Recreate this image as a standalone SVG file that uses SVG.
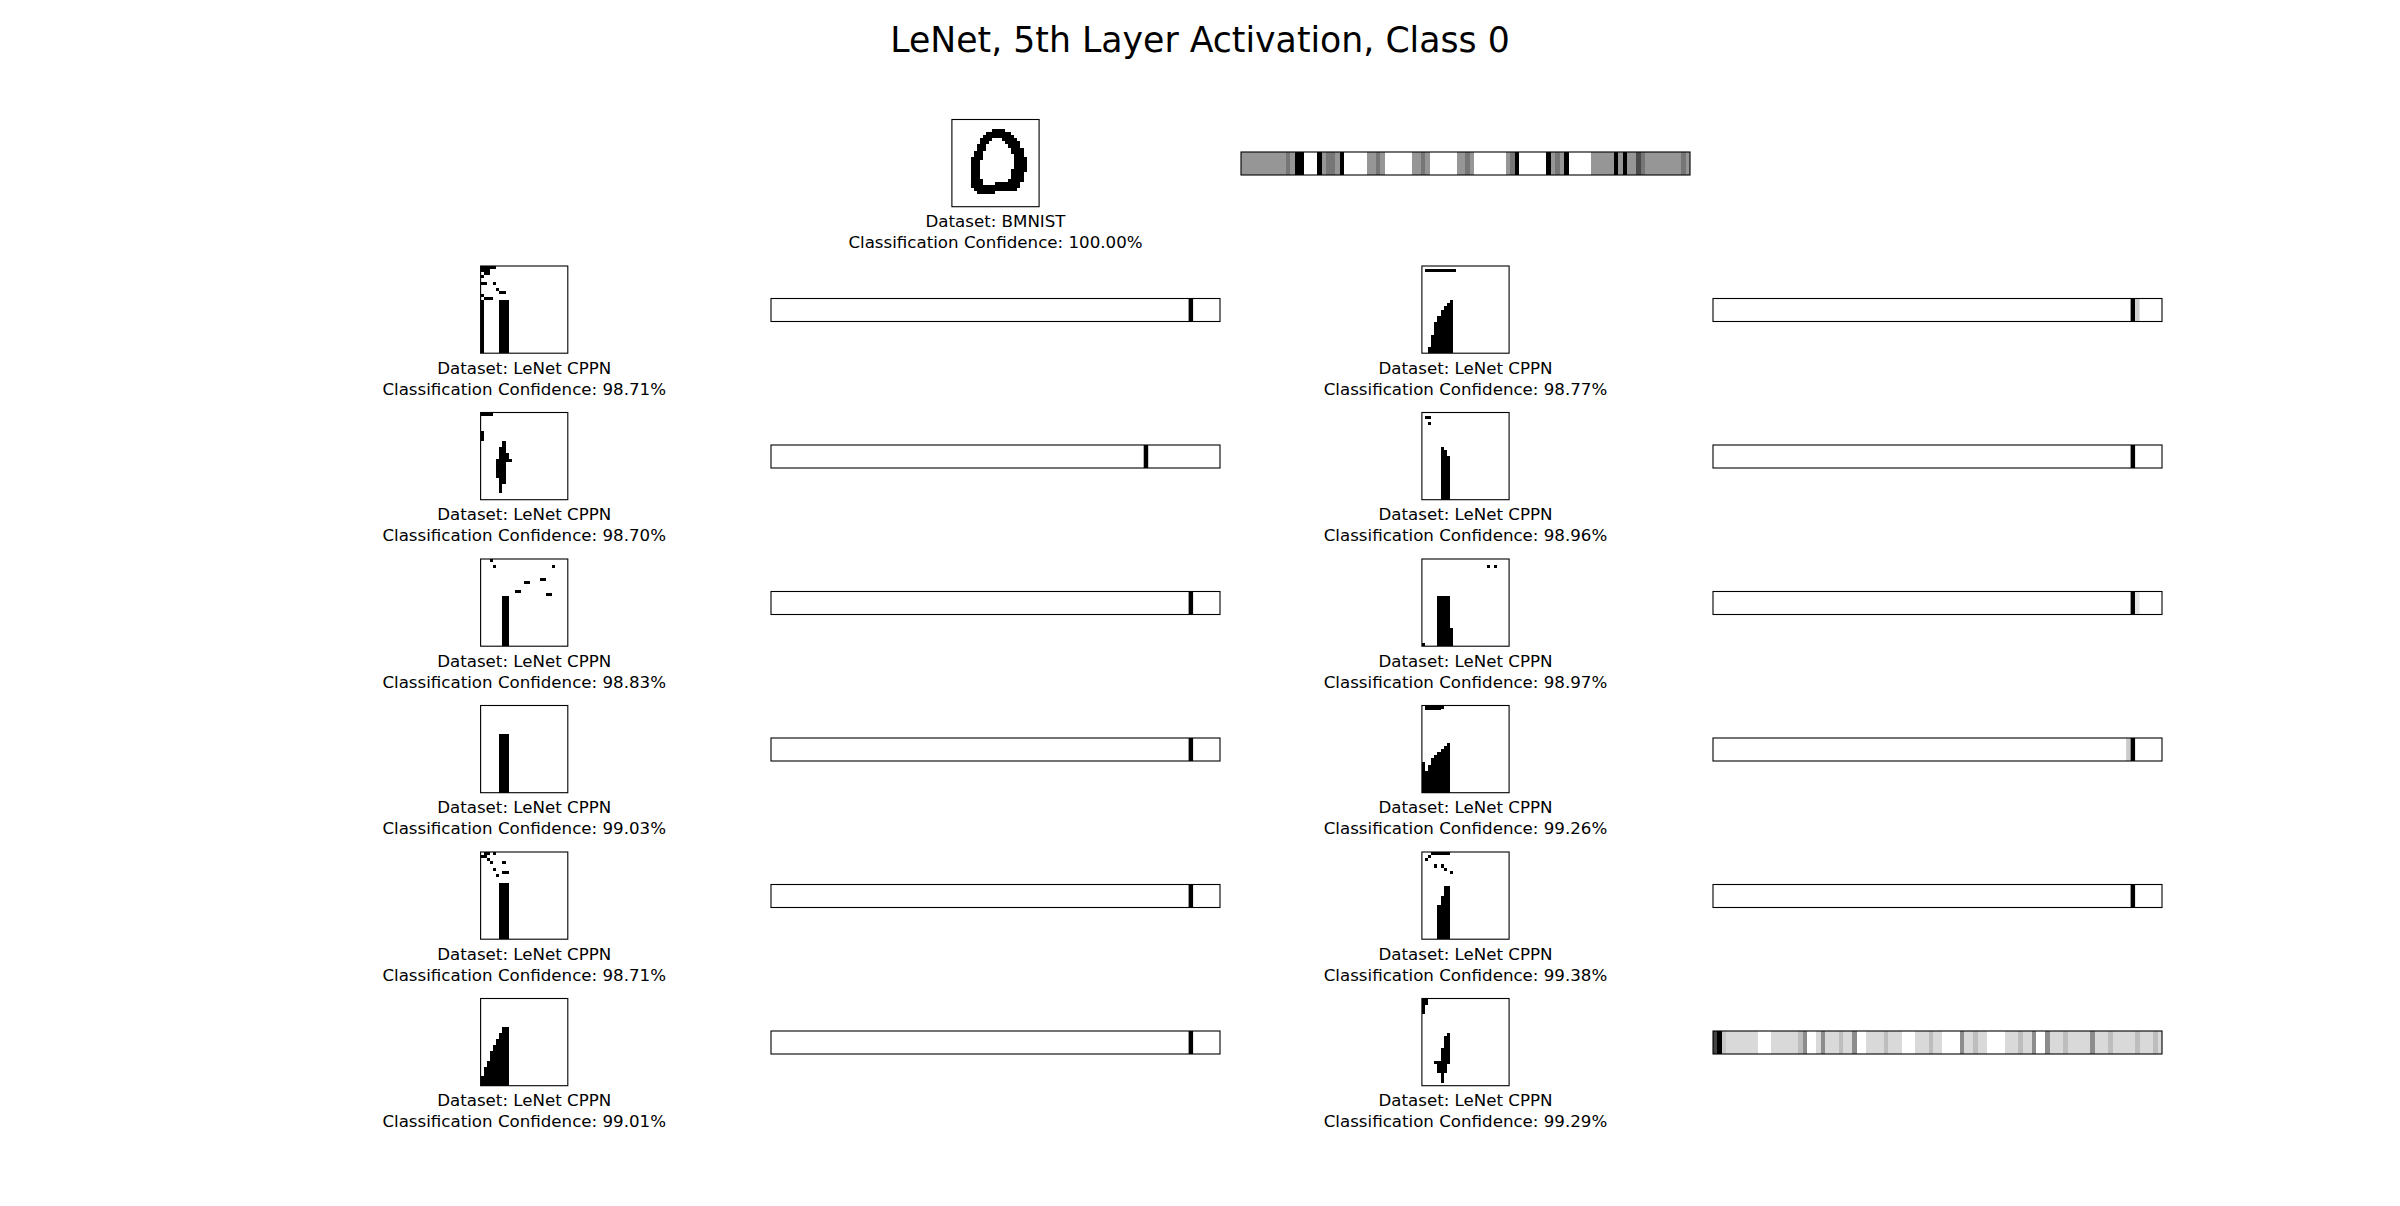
<svg xmlns="http://www.w3.org/2000/svg" width="2400" height="1206" viewBox="0 0 2400 1206">
<style>
text{font-family:"DejaVu Sans","Liberation Sans",sans-serif;fill:#000;text-anchor:middle}
.title{font-size:34.7px}
.lbl{font-size:16.67px}
.frame{fill:none;stroke:#000;stroke-width:1.1}
.px rect{fill:#000}
.G{fill:#969696}.D{fill:#767676}.B{fill:#000}.VD{fill:#4a4a4a}
.L{fill:#d9d9d9}.M{fill:#bdbdbd}.Gr{fill:#8c8c8c}
</style>
<rect width="2400" height="1206" fill="#fff"/>
<text class="title" x="1200" y="52">LeNet, 5th Layer Activation, Class 0</text>

<!-- Top row -->
<g id="bmnist">
<g class="px" transform="translate(951.9,119.5) scale(3.114)" shape-rendering="crispEdges">
<rect x="13" y="3" width="4" height="1"/>
<rect x="11" y="4" width="8" height="1"/>
<rect x="10" y="5" width="10" height="1"/>
<rect x="9" y="6" width="4" height="1"/><rect x="16" y="6" width="5" height="1"/>
<rect x="9" y="7" width="3" height="1"/><rect x="17" y="7" width="5" height="1"/>
<rect x="8" y="8" width="3" height="1"/><rect x="18" y="8" width="4" height="1"/>
<rect x="8" y="9" width="3" height="1"/><rect x="19" y="9" width="4" height="1"/>
<rect x="7" y="10" width="3" height="1"/><rect x="19" y="10" width="4" height="1"/>
<rect x="7" y="11" width="3" height="1"/><rect x="20" y="11" width="3" height="1"/>
<rect x="6" y="12" width="4" height="1"/><rect x="20" y="12" width="4" height="1"/>
<rect x="6" y="13" width="3" height="3"/><rect x="20" y="13" width="4" height="3"/>
<rect x="6" y="16" width="3" height="3"/><rect x="19" y="16" width="5" height="1"/>
<rect x="19" y="17" width="4" height="2"/>
<rect x="6" y="19" width="4" height="1"/><rect x="18" y="19" width="5" height="1"/>
<rect x="6" y="20" width="4" height="1"/><rect x="14" y="20" width="8" height="1"/>
<rect x="6" y="21" width="16" height="1"/>
<rect x="7" y="22" width="14" height="1"/>
<rect x="8" y="23" width="6" height="1"/>
</g>
<rect class="frame" x="951.9" y="119.5" width="87.2" height="87.2"/>
<text class="lbl" x="995.5" y="227.2">Dataset: BMNIST</text>
<text class="lbl" x="995.5" y="248.2">Classification Confidence: 100.00%</text>
</g>
<g id="bar-bmnist">
<g transform="translate(1241,152) scale(4.49,23)" shape-rendering="crispEdges">
<rect class="G" x="0" y="0" width="10" height="1"/><rect class="D" x="10" y="0" width="1" height="1"/><rect class="G" x="11" y="0" width="1" height="1"/>
<rect class="B" x="12" y="0" width="2" height="1"/>
<rect class="B" x="17" y="0" width="1" height="1"/><rect class="G" x="18" y="0" width="1" height="1"/><rect class="D" x="19" y="0" width="2" height="1"/><rect class="G" x="21" y="0" width="1" height="1"/><rect class="B" x="22" y="0" width="1" height="1"/>
<rect class="G" x="28" y="0" width="2" height="1"/><rect class="D" x="30" y="0" width="1" height="1"/><rect class="G" x="31" y="0" width="1" height="1"/>
<rect class="G" x="38" y="0" width="2" height="1"/><rect class="D" x="40" y="0" width="1" height="1"/><rect class="G" x="41" y="0" width="1" height="1"/>
<rect class="G" x="48" y="0" width="2" height="1"/><rect class="D" x="50" y="0" width="1" height="1"/><rect class="G" x="51" y="0" width="1" height="1"/>
<rect class="G" x="59" y="0" width="1" height="1"/><rect class="D" x="60" y="0" width="1" height="1"/><rect class="B" x="61" y="0" width="1" height="1"/>
<rect class="B" x="68" y="0" width="1" height="1"/><rect class="G" x="69" y="0" width="1" height="1"/><rect class="D" x="70" y="0" width="1" height="1"/><rect class="G" x="71" y="0" width="1" height="1"/><rect class="B" x="72" y="0" width="1" height="1"/>
<rect class="G" x="78" y="0" width="5" height="1"/><rect class="B" x="83" y="0" width="1" height="1"/><rect class="G" x="84" y="0" width="1" height="1"/><rect class="B" x="85" y="0" width="1" height="1"/><rect class="G" x="86" y="0" width="2" height="1"/><rect class="VD" x="88" y="0" width="1" height="1"/><rect class="D" x="89" y="0" width="1" height="1"/><rect class="G" x="90" y="0" width="8" height="1"/><rect class="D" x="98" y="0" width="1" height="1"/><rect class="G" x="99" y="0" width="1" height="1"/>
</g>
<rect class="frame" x="1241" y="152" width="449" height="23"/>
</g>

<!-- Left column -->
<g id="left-1">
<g class="px" transform="translate(480.6,266) scale(3.114)" shape-rendering="crispEdges">
<rect x="0" y="0" width="5" height="1"/><rect x="0" y="1" width="3" height="1"/><rect x="1" y="2" width="2" height="1"/><rect x="0" y="3" width="1" height="1"/>
<rect x="0" y="5" width="2" height="1"/><rect x="4" y="5" width="1" height="1"/><rect x="5" y="7" width="1" height="1"/><rect x="6" y="8" width="2" height="1"/>
<rect x="0" y="9" width="1" height="1"/><rect x="1" y="10" width="3" height="1"/>
<rect x="0" y="11" width="1" height="17"/><rect x="6" y="11" width="3" height="17"/>
</g>
<rect class="frame" x="480.6" y="266" width="87.2" height="87.2"/>
<text class="lbl" x="524.2" y="373.7">Dataset: LeNet CPPN</text>
<text class="lbl" x="524.2" y="394.7">Classification Confidence: 98.71%</text>
</g>
<g id="left-2">
<g class="px" transform="translate(480.6,412.5) scale(3.114)" shape-rendering="crispEdges">
<rect x="0" y="0" width="4" height="1"/><rect x="0" y="6" width="1" height="3"/>
<rect x="7" y="9" width="1" height="2"/><rect x="6" y="11" width="2" height="2"/><rect x="6" y="13" width="3" height="2"/><rect x="5" y="15" width="5" height="1"/><rect x="5" y="16" width="3" height="5"/><rect x="6" y="21" width="2" height="2"/><rect x="6" y="23" width="1" height="3"/>
</g>
<rect class="frame" x="480.6" y="412.5" width="87.2" height="87.2"/>
<text class="lbl" x="524.2" y="520.2">Dataset: LeNet CPPN</text>
<text class="lbl" x="524.2" y="541.2">Classification Confidence: 98.70%</text>
</g>
<g id="left-3">
<g class="px" transform="translate(480.6,559) scale(3.114)" shape-rendering="crispEdges">
<rect x="3" y="0" width="1" height="1"/><rect x="4" y="2" width="1" height="1"/><rect x="23" y="2" width="1" height="1"/>
<rect x="19" y="6" width="2" height="1"/><rect x="14" y="7" width="2" height="1"/><rect x="11" y="10" width="2" height="1"/><rect x="21" y="11" width="2" height="1"/>
<rect x="7" y="12" width="2" height="16"/>
</g>
<rect class="frame" x="480.6" y="559" width="87.2" height="87.2"/>
<text class="lbl" x="524.2" y="666.7">Dataset: LeNet CPPN</text>
<text class="lbl" x="524.2" y="687.7">Classification Confidence: 98.83%</text>
</g>
<g id="left-4">
<g class="px" transform="translate(480.6,705.5) scale(3.114)" shape-rendering="crispEdges">
<rect x="6" y="9" width="3" height="19"/>
</g>
<rect class="frame" x="480.6" y="705.5" width="87.2" height="87.2"/>
<text class="lbl" x="524.2" y="813.2">Dataset: LeNet CPPN</text>
<text class="lbl" x="524.2" y="834.2">Classification Confidence: 99.03%</text>
</g>
<g id="left-5">
<g class="px" transform="translate(480.6,852) scale(3.114)" shape-rendering="crispEdges">
<rect x="1" y="0" width="2" height="1"/><rect x="0" y="1" width="2" height="1"/><rect x="2" y="2" width="1" height="1"/><rect x="4" y="0" width="1" height="1"/>
<rect x="7" y="3" width="1" height="1"/><rect x="3" y="3" width="1" height="1"/><rect x="4" y="5" width="1" height="1"/><rect x="7" y="6" width="2" height="1"/><rect x="5" y="7" width="1" height="1"/>
<rect x="6" y="10" width="3" height="18"/>
</g>
<rect class="frame" x="480.6" y="852" width="87.2" height="87.2"/>
<text class="lbl" x="524.2" y="959.7">Dataset: LeNet CPPN</text>
<text class="lbl" x="524.2" y="980.7">Classification Confidence: 98.71%</text>
</g>
<g id="left-6">
<g class="px" transform="translate(480.6,998.5) scale(3.114)" shape-rendering="crispEdges">
<rect x="7" y="9" width="2" height="2"/><rect x="6" y="11" width="3" height="2"/><rect x="5" y="13" width="4" height="2"/><rect x="4" y="15" width="5" height="2"/><rect x="3" y="17" width="6" height="3"/><rect x="2" y="20" width="7" height="2"/><rect x="1" y="22" width="8" height="3"/><rect x="0" y="25" width="9" height="3"/>
</g>
<rect class="frame" x="480.6" y="998.5" width="87.2" height="87.2"/>
<text class="lbl" x="524.2" y="1106.2">Dataset: LeNet CPPN</text>
<text class="lbl" x="524.2" y="1127.2">Classification Confidence: 99.01%</text>
</g>

<!-- Right column -->
<g id="right-1">
<g class="px" transform="translate(1421.9,266) scale(3.114)" shape-rendering="crispEdges">
<rect x="1" y="1" width="10" height="1"/>
<rect x="9" y="11" width="1" height="1"/><rect x="8" y="12" width="2" height="1"/><rect x="7" y="13" width="3" height="1"/><rect x="6" y="14" width="4" height="2"/><rect x="5" y="16" width="5" height="2"/><rect x="4" y="18" width="6" height="4"/><rect x="3" y="22" width="7" height="4"/><rect x="2" y="26" width="8" height="2"/>
</g>
<rect class="frame" x="1421.9" y="266" width="87.2" height="87.2"/>
<text class="lbl" x="1465.5" y="373.7">Dataset: LeNet CPPN</text>
<text class="lbl" x="1465.5" y="394.7">Classification Confidence: 98.77%</text>
</g>
<g id="right-2">
<g class="px" transform="translate(1421.9,412.5) scale(3.114)" shape-rendering="crispEdges">
<rect x="1" y="1" width="2" height="1"/><rect x="2" y="3" width="1" height="1"/>
<rect x="6" y="11" width="1" height="17"/><rect x="7" y="12" width="1" height="16"/><rect x="8" y="14" width="1" height="14"/>
</g>
<rect class="frame" x="1421.9" y="412.5" width="87.2" height="87.2"/>
<text class="lbl" x="1465.5" y="520.2">Dataset: LeNet CPPN</text>
<text class="lbl" x="1465.5" y="541.2">Classification Confidence: 98.96%</text>
</g>
<g id="right-3">
<g class="px" transform="translate(1421.9,559) scale(3.114)" shape-rendering="crispEdges">
<rect x="21" y="2" width="1" height="1"/><rect x="23" y="2" width="1" height="1"/>
<rect x="5" y="12" width="4" height="16"/><rect x="9" y="22" width="1" height="6"/><rect x="0" y="27" width="1" height="1"/>
</g>
<rect class="frame" x="1421.9" y="559" width="87.2" height="87.2"/>
<text class="lbl" x="1465.5" y="666.7">Dataset: LeNet CPPN</text>
<text class="lbl" x="1465.5" y="687.7">Classification Confidence: 98.97%</text>
</g>
<g id="right-4">
<g class="px" transform="translate(1421.9,705.5) scale(3.114)" shape-rendering="crispEdges">
<rect x="1" y="0" width="6" height="1"/><rect x="1" y="1" width="5" height="0.6"/>
<rect x="0" y="18" width="1" height="10"/><rect x="1" y="21" width="1" height="7"/><rect x="2" y="19" width="1" height="9"/><rect x="3" y="17" width="1" height="11"/><rect x="4" y="16" width="1" height="12"/><rect x="5" y="15" width="1" height="13"/><rect x="6" y="14" width="1" height="14"/><rect x="7" y="13" width="1" height="15"/><rect x="8" y="12" width="1" height="16"/>
</g>
<rect class="frame" x="1421.9" y="705.5" width="87.2" height="87.2"/>
<text class="lbl" x="1465.5" y="813.2">Dataset: LeNet CPPN</text>
<text class="lbl" x="1465.5" y="834.2">Classification Confidence: 99.26%</text>
</g>
<g id="right-5">
<g class="px" transform="translate(1421.9,852) scale(3.114)" shape-rendering="crispEdges">
<rect x="5" y="0" width="4" height="1"/><rect x="3" y="0" width="2" height="1"/><rect x="2" y="1" width="1" height="1"/><rect x="1" y="2" width="1" height="1"/>
<rect x="4" y="4" width="1" height="1"/><rect x="6" y="4" width="1" height="1"/><rect x="7" y="5" width="1" height="1"/><rect x="9" y="6" width="1" height="1"/>
<rect x="7" y="11" width="2" height="17"/><rect x="6" y="14" width="1" height="14"/><rect x="5" y="17" width="1" height="11"/>
</g>
<rect class="frame" x="1421.9" y="852" width="87.2" height="87.2"/>
<text class="lbl" x="1465.5" y="959.7">Dataset: LeNet CPPN</text>
<text class="lbl" x="1465.5" y="980.7">Classification Confidence: 99.38%</text>
</g>
<g id="right-6">
<g class="px" transform="translate(1421.9,998.5) scale(3.114)" shape-rendering="crispEdges">
<rect x="0" y="0" width="2" height="2"/><rect x="0" y="2" width="1" height="3"/>
<rect x="8" y="11" width="1" height="1"/><rect x="7" y="12" width="2" height="4"/><rect x="6" y="16" width="3" height="4"/><rect x="4" y="20" width="5" height="1"/><rect x="5" y="21" width="3" height="3"/><rect x="6" y="24" width="1" height="3"/>
</g>
<rect class="frame" x="1421.9" y="998.5" width="87.2" height="87.2"/>
<text class="lbl" x="1465.5" y="1106.2">Dataset: LeNet CPPN</text>
<text class="lbl" x="1465.5" y="1127.2">Classification Confidence: 99.29%</text>
</g>

<!-- Activation bars -->
<g id="bars">
<g id="bar-left-1"><rect fill="#000" x="1188.6" y="298.5" width="4.49" height="23"/><rect class="frame" x="771" y="298.5" width="449" height="23"/></g>
<g id="bar-left-2"><rect fill="#000" x="1143.7" y="445" width="4.49" height="23"/><rect class="frame" x="771" y="445" width="449" height="23"/></g>
<g id="bar-left-3"><rect fill="#000" x="1188.6" y="591.5" width="4.49" height="23"/><rect class="frame" x="771" y="591.5" width="449" height="23"/></g>
<g id="bar-left-4"><rect fill="#000" x="1188.6" y="738" width="4.49" height="23"/><rect class="frame" x="771" y="738" width="449" height="23"/></g>
<g id="bar-left-5"><rect fill="#000" x="1188.6" y="884.5" width="4.49" height="23"/><rect class="frame" x="771" y="884.5" width="449" height="23"/></g>
<g id="bar-left-6"><rect fill="#000" x="1188.6" y="1031" width="4.49" height="23"/><rect class="frame" x="771" y="1031" width="449" height="23"/></g>

<g id="bar-right-1"><rect fill="#000" x="2130.6" y="298.5" width="4.49" height="23"/><rect fill="#d0d0d0" x="2135.1" y="298.5" width="4.49" height="23"/><rect class="frame" x="1713" y="298.5" width="449" height="23"/></g>
<g id="bar-right-2"><rect fill="#000" x="2130.6" y="445" width="4.49" height="23"/><rect class="frame" x="1713" y="445" width="449" height="23"/></g>
<g id="bar-right-3"><rect fill="#000" x="2130.6" y="591.5" width="4.49" height="23"/><rect fill="#e6e6e6" x="2135.1" y="591.5" width="4.49" height="23"/><rect class="frame" x="1713" y="591.5" width="449" height="23"/></g>
<g id="bar-right-4"><rect fill="#cccccc" x="2126.1" y="738" width="4.49" height="23"/><rect fill="#000" x="2130.6" y="738" width="4.49" height="23"/><rect class="frame" x="1713" y="738" width="449" height="23"/></g>
<g id="bar-right-5"><rect fill="#000" x="2130.6" y="884.5" width="4.49" height="23"/><rect class="frame" x="1713" y="884.5" width="449" height="23"/></g>
<g id="bar-right-6">
<g transform="translate(1713,1031) scale(4.49,23)" shape-rendering="crispEdges">
<rect fill="#444" x="0" y="0" width="1" height="1"/><rect fill="#000" x="1" y="0" width="1" height="1"/><rect fill="#c8c8c8" x="2" y="0" width="1" height="1"/>
<rect class="L" x="3" y="0" width="7" height="1"/><rect class="L" x="13" y="0" width="6" height="1"/><rect class="M" x="19" y="0" width="1" height="1"/><rect class="Gr" x="20" y="0" width="1" height="1"/>
<rect class="L" x="23" y="0" width="1" height="1"/><rect class="Gr" x="24" y="0" width="1" height="1"/><rect class="L" x="25" y="0" width="3" height="1"/><rect class="M" x="28" y="0" width="1" height="1"/><rect class="L" x="29" y="0" width="2" height="1"/><rect class="Gr" x="31" y="0" width="1" height="1"/>
<rect class="L" x="34" y="0" width="4" height="1"/><rect class="M" x="38" y="0" width="1" height="1"/><rect class="L" x="39" y="0" width="3" height="1"/>
<rect class="L" x="45" y="0" width="3" height="1"/><rect class="M" x="48" y="0" width="1" height="1"/><rect class="L" x="49" y="0" width="2" height="1"/>
<rect class="Gr" x="55" y="0" width="1" height="1"/><rect class="L" x="56" y="0" width="2" height="1"/><rect class="M" x="58" y="0" width="1" height="1"/><rect class="L" x="59" y="0" width="2" height="1"/>
<rect class="L" x="65" y="0" width="3" height="1"/><rect class="M" x="68" y="0" width="1" height="1"/><rect class="L" x="69" y="0" width="2" height="1"/><rect class="Gr" x="71" y="0" width="1" height="1"/>
<rect class="Gr" x="74" y="0" width="1" height="1"/><rect class="L" x="75" y="0" width="3" height="1"/><rect class="M" x="78" y="0" width="1" height="1"/><rect class="L" x="79" y="0" width="5" height="1"/><rect class="Gr" x="84" y="0" width="1" height="1"/><rect class="L" x="85" y="0" width="3" height="1"/><rect class="M" x="88" y="0" width="1" height="1"/><rect class="L" x="89" y="0" width="5" height="1"/><rect class="M" x="94" y="0" width="1" height="1"/><rect class="L" x="95" y="0" width="3" height="1"/><rect class="M" x="98" y="0" width="1" height="1"/><rect class="L" x="99" y="0" width="1" height="1"/>
</g>
<rect class="frame" x="1713" y="1031" width="449" height="23"/>
</g>
</g>
</svg>
